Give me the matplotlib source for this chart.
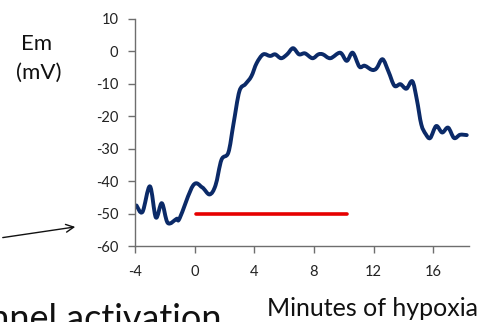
import matplotlib
matplotlib.use("Agg")
import matplotlib.pyplot as plt
from matplotlib.path import Path
from matplotlib.patches import PathPatch, FancyArrowPatch

plt.rcParams['font.family'] = ['Lato', 'DejaVu Sans']

# Membrane potential trace (minutes, mV)
minutes = [-3.9, -3.5, -3.0, -2.6, -2.2, -1.8, -1.2, -1.0, -0.1, 0.5, 1.0, 1.4,
           1.8, 2.26, 2.6, 3.0, 3.4, 3.8, 4.16, 4.6, 5.06, 5.4, 5.8, 6.2, 6.6,
           7.0, 7.4, 7.9, 8.3, 8.6, 9.1, 9.76, 10.2, 10.6, 11.05, 11.4, 11.9,
           12.2, 12.6, 13.0, 13.4, 13.8, 14.2, 14.6, 14.9, 15.2, 15.5, 15.8,
           16.2, 16.6, 17.0, 17.4, 17.8, 18.25]
em_mv = [-47.5, -49.5, -41.6, -51.2, -46.8, -52.9, -51.6, -51.4, -41.3, -41.9,
         -44.1, -41.3, -33.4, -31.2, -22.5, -12.3, -10.1, -7.7, -3.6, -0.9,
         -1.4, -0.9, -2.1, -0.9, 1.0, -0.9, -0.6, -2.1, -0.9, -0.9, -2.1, -0.4,
         -2.9, -0.4, -4.7, -4.4, -5.7, -5.2, -2.4, -6.2, -10.6, -10.1, -11.5,
         -9.2, -14.8, -22.5, -25.5, -26.7, -23.0, -25.0, -23.5, -26.7, -25.7,
         -25.8]

# Hypoxia period bar
hypoxia_x = [0.1, 10.2]
hypoxia_y = [-50, -50]

xticks = [-4, 0, 4, 8, 12, 16]
yticks = [-60, -50, -40, -30, -20, -10, 0, 10]


def smooth_path(xs, ys):
    """Excel-style smoothed line: cubic Bezier segments through the points."""
    n = len(xs)
    verts = [(xs[0], ys[0])]
    codes = [Path.MOVETO]
    for i in range(n - 1):
        x0, y0 = xs[max(i - 1, 0)], ys[max(i - 1, 0)]
        x1, y1 = xs[i], ys[i]
        x2, y2 = xs[i + 1], ys[i + 1]
        x3, y3 = xs[min(i + 2, n - 1)], ys[min(i + 2, n - 1)]
        c1 = (x1 + (x2 - x0) / 6.0, y1 + (y2 - y0) / 6.0)
        c2 = (x2 - (x3 - x1) / 6.0, y2 - (y3 - y1) / 6.0)
        verts += [c1, c2, (x2, y2)]
        codes += [Path.CURVE4, Path.CURVE4, Path.CURVE4]
    return Path(verts, codes)


fig = plt.figure(figsize=(4.83, 3.22), dpi=100)
ax = fig.add_axes([0.2795, 0.236, 0.6915, 0.705])

ax.add_patch(PathPatch(smooth_path(minutes, em_mv), facecolor='none',
                       edgecolor='#0b2a68', lw=2.8, joinstyle='round',
                       capstyle='round'))
ax.plot(hypoxia_x, hypoxia_y, color='#e60000', lw=2.6, solid_capstyle='round')

ax.set_xlim(-4, 18.4)
ax.set_ylim(-60, 10)
ax.set_xticks(xticks)
ax.set_yticks(yticks)
ax.set_xticklabels([str(v) for v in xticks])
ax.set_yticklabels([str(v) for v in yticks])

for s in ['top', 'right']:
    ax.spines[s].set_visible(False)
for s in ['left', 'bottom']:
    ax.spines[s].set_color('#6e6e6e')
    ax.spines[s].set_linewidth(1.0)

ax.tick_params(axis='both', direction='out', length=5, width=1.0,
               color='#6e6e6e', labelsize=10.5, labelcolor='#222222')
ax.tick_params(axis='y', pad=7)
ax.tick_params(axis='x', pad=9)

fig.text(37 / 483, 1 - 44 / 322, 'Em', ha='center', va='center',
         fontsize=16, color='#111111')
fig.text(39 / 483, 1 - 73 / 322, '(mV)', ha='center', va='center',
         fontsize=16, color='#111111')
fig.text(478 / 483, 1 - 308 / 322, 'Minutes of hypoxia', ha='right',
         va='center', fontsize=18, color='#111111')
fig.text(222 / 483, 1 - 330 / 322, 'channel activation', ha='right',
         va='baseline', fontsize=26, color='#111111')

fig.add_artist(FancyArrowPatch(
    (0 / 483, 1 - 238 / 322), (78 / 483, 1 - 226.5 / 322),
    transform=fig.transFigure, arrowstyle='->', mutation_scale=14,
    color='#111111', lw=1.0))

fig.savefig('out.png', dpi=100)
